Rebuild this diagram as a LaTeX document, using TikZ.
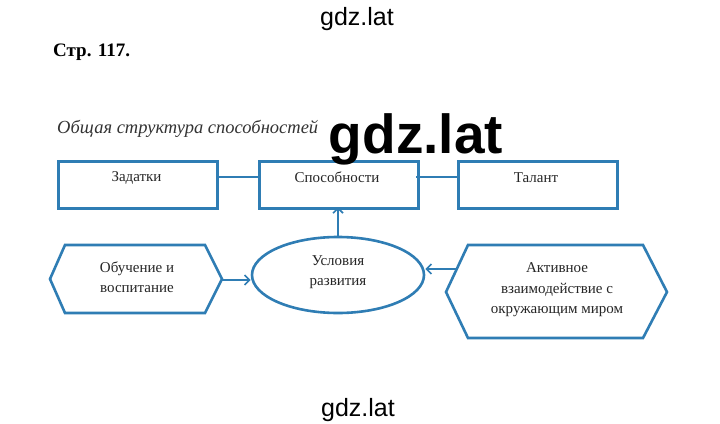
\documentclass[tikz,border=0pt]{standalone}
\usepackage{fontspec}
\setmainfont{Liberation Serif}
\newfontfamily\wmfont{Liberation Sans}
\usetikzlibrary{shapes.geometric,arrows.meta}
\definecolor{sblue}{HTML}{2F7DB4}
\tikzset{
  box/.style={draw=sblue,line width=2.6pt,minimum width=159pt,minimum height=47pt,inner sep=0pt},
  hexa/.style={draw=sblue,line width=2.6pt,line join=miter},
  conn/.style={draw=sblue,line width=1.6pt},
  arr/.style={conn,-{Straight Barb[length=5pt,width=10pt,line width=1.6pt]}},
  lab/.style={font=\fontsize{15}{20}\selectfont,align=center,text=black!85},
  wm/.style={font=\wmfont\fontsize{25}{27}\selectfont,anchor=base,inner sep=0pt},
}
\begin{document}
\begin{tikzpicture}[x=1pt,y=-1pt]
\useasboundingbox (0,0) rectangle (720,423);
\fill[white] (0,0) rectangle (720,423);
% watermarks
\node[wm] (wm1) at (357,25) {gdz.lat};
\node[wm] (wm2) at (358,416) {gdz.lat};
% heading
\node[anchor=west,font=\bfseries\fontsize{19}{21}\selectfont,inner sep=0pt] (page) at (53,52) {Стр. 117.};
\node[anchor=west,font=\itshape\fontsize{18.5}{20}\selectfont,text=black!80,inner sep=0pt] (title) at (57,129) {Общая структура способностей};
% top boxes
\node[box,anchor=north west] (zad) at (57,160) {};
\node[box,anchor=north west] (spo) at (258,160) {};
\node[box,anchor=north west] (tal) at (457,160) {};
\node[lab] (zadt) at (136.5,177.5) {Задатки};
\node[lab] (spot) at (337,177.5) {Способности};
\node[lab] (talt) at (536,177.5) {Талант};
\coordinate (zadR) at (216,177);
\coordinate (spoL) at (258,177);
\coordinate (spoR) at (416,177);
\coordinate (talL) at (457,177);
\coordinate (spoB) at (338,207);
\draw[conn] (zadR) -- (spoL);
\draw[conn] (spoR) -- (talL);
% ellipse
\node[draw=sblue,line width=2.6pt,ellipse,minimum width=172pt,minimum height=76pt,inner sep=0pt] (usl) at (338,275) {};
\node[lab] (uslt) at (338,272) {Условия\\развития};
% left hexagon
\draw[hexa] (50,279) -- (65,245) -- (205,245) -- (222,279) -- (205,313) -- (65,313) -- cycle;
\coordinate (lhexR) at (222,280);
\node[lab] (obt) at (137,277) {Обучение и\\воспитание};
% right hexagon
\draw[hexa] (446,292) -- (468,245) -- (643,245) -- (667,292) -- (643,338) -- (468,338) -- cycle;
\coordinate (rhexL) at (457,269);
\node[lab,font=\fontsize{15}{20.5}\selectfont] (akt) at (557,290) {Активное\\взаимодействие с\\окружающим миром};
% connectors
\draw[arr] (lhexR) -- (usl.west |- lhexR);
\draw[arr] (rhexL) -- (usl.east |- rhexL);
\draw[arr] (usl.north) -- (spoB);
% big watermark
\node[font=\wmfont\bfseries\fontsize{55}{57}\selectfont,anchor=base,inner sep=0pt] (wm3) at (416,153) {gdz.lat};
\end{tikzpicture}
\end{document}
